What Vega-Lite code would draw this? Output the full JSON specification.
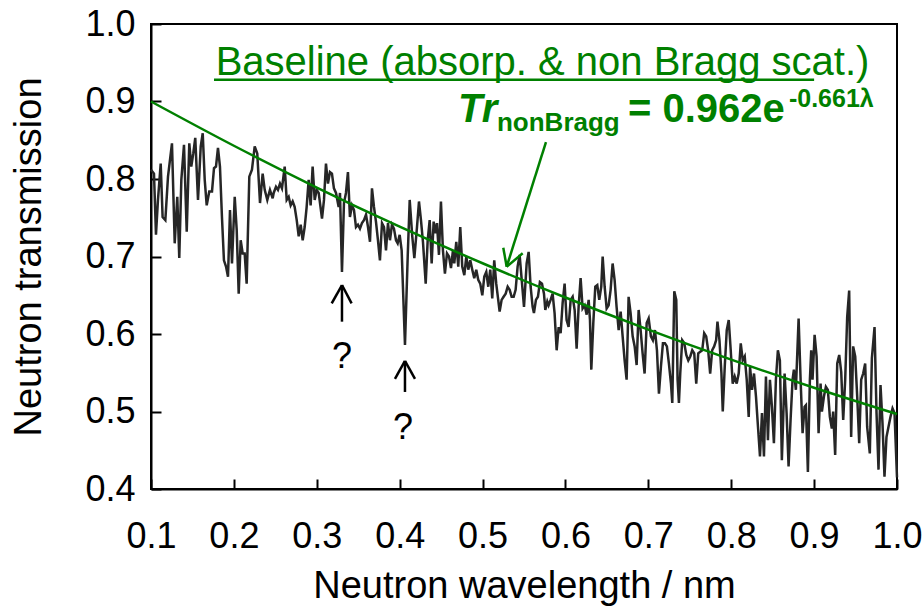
{
"$schema": "https://vega.github.io/schema/vega-lite/v6.json",
"width": 746, "height": 465,
"autosize": {"type": "none"},
"padding": {"left": 151, "top": 24, "right": 26, "bottom": 117},
"background": "white",
"config": {"view": {"stroke": "black", "strokeWidth": 2}, "font": "Liberation Sans"},
"datasets": {
"trans": [
{"wl":0.1,"tr":0.812},{"wl":0.1036,"tr":0.807},{"wl":0.106,"tr":0.728},{"wl":0.1084,"tr":0.773},{"wl":0.1117,"tr":0.82},{"wl":0.114,"tr":0.751},{"wl":0.1173,"tr":0.747},{"wl":0.1205,"tr":0.803},{"wl":0.1253,"tr":0.846},{"wl":0.1286,"tr":0.717},{"wl":0.1317,"tr":0.777},{"wl":0.1341,"tr":0.698},{"wl":0.1366,"tr":0.799},{"wl":0.1398,"tr":0.844},{"wl":0.1431,"tr":0.732},{"wl":0.1462,"tr":0.846},{"wl":0.1486,"tr":0.816},{"wl":0.151,"tr":0.833},{"wl":0.1534,"tr":0.853},{"wl":0.1567,"tr":0.773},{"wl":0.16,"tr":0.842},{"wl":0.1624,"tr":0.859},{"wl":0.1648,"tr":0.799},{"wl":0.1672,"tr":0.766},{"wl":0.1703,"tr":0.784},{"wl":0.1736,"tr":0.784},{"wl":0.176,"tr":0.814},{"wl":0.1784,"tr":0.816},{"wl":0.1808,"tr":0.84},{"wl":0.1832,"tr":0.816},{"wl":0.1856,"tr":0.751},{"wl":0.188,"tr":0.695},{"wl":0.1905,"tr":0.687},{"wl":0.1929,"tr":0.674},{"wl":0.1953,"tr":0.76},{"wl":0.1977,"tr":0.691},{"wl":0.201,"tr":0.777},{"wl":0.2034,"tr":0.734},{"wl":0.2058,"tr":0.652},{"wl":0.2082,"tr":0.721},{"wl":0.2106,"tr":0.704},{"wl":0.213,"tr":0.704},{"wl":0.2154,"tr":0.665},{"wl":0.2186,"tr":0.803},{"wl":0.2218,"tr":0.812},{"wl":0.2251,"tr":0.842},{"wl":0.2282,"tr":0.833},{"wl":0.2315,"tr":0.769},{"wl":0.2347,"tr":0.807},{"wl":0.2372,"tr":0.786},{"wl":0.2403,"tr":0.773},{"wl":0.2435,"tr":0.786},{"wl":0.2468,"tr":0.775},
{"wl":0.248,"tr":0.782},{"wl":0.2508,"tr":0.79},{"wl":0.2532,"tr":0.786},{"wl":0.2556,"tr":0.794},{"wl":0.258,"tr":0.788},{"wl":0.2613,"tr":0.816},{"wl":0.2637,"tr":0.773},{"wl":0.2661,"tr":0.777},{"wl":0.2685,"tr":0.766},{"wl":0.2709,"tr":0.771},{"wl":0.2733,"tr":0.764},{"wl":0.2758,"tr":0.747},{"wl":0.2782,"tr":0.726},{"wl":0.2806,"tr":0.741},{"wl":0.283,"tr":0.721},{"wl":0.2854,"tr":0.738},{"wl":0.2878,"tr":0.764},{"wl":0.2902,"tr":0.799},{"wl":0.2926,"tr":0.766},{"wl":0.295,"tr":0.816},{"wl":0.2975,"tr":0.773},{"wl":0.2999,"tr":0.786},{"wl":0.3023,"tr":0.782},{"wl":0.3063,"tr":0.749},{"wl":0.3087,"tr":0.773},{"wl":0.3111,"tr":0.82},{"wl":0.3135,"tr":0.794},{"wl":0.3159,"tr":0.809},{"wl":0.3183,"tr":0.807},{"wl":0.3207,"tr":0.788},{"wl":0.3232,"tr":0.782},{"wl":0.3264,"tr":0.764},{"wl":0.328,"tr":0.782},{"wl":0.3304,"tr":0.68},{"wl":0.3328,"tr":0.769},{"wl":0.3352,"tr":0.782},{"wl":0.3376,"tr":0.809},{"wl":0.34,"tr":0.751},{"wl":0.3425,"tr":0.766},{"wl":0.3449,"tr":0.76},{"wl":0.3473,"tr":0.738},{"wl":0.3497,"tr":0.741},{"wl":0.3521,"tr":0.736},{"wl":0.3545,"tr":0.743},{"wl":0.3569,"tr":0.747},{"wl":0.3594,"tr":0.754},{"wl":0.3618,"tr":0.738},{"wl":0.3642,"tr":0.719},{"wl":0.3666,"tr":0.788},{"wl":0.369,"tr":0.764},{"wl":0.3714,"tr":0.745},{"wl":0.3738,"tr":0.721},{"wl":0.3762,"tr":0.695},{"wl":0.3787,"tr":0.743},{"wl":0.3811,"tr":0.738},{"wl":0.3835,"tr":0.708},{"wl":0.3859,"tr":0.743},{"wl":0.3883,"tr":0.721},{"wl":0.3907,"tr":0.741},{"wl":0.3931,"tr":0.736},{"wl":0.3956,"tr":0.721},
{"wl":0.3976,"tr":0.717},{"wl":0.4,"tr":0.728},{"wl":0.4024,"tr":0.708},{"wl":0.4064,"tr":0.586},{"wl":0.4097,"tr":0.7},{"wl":0.4121,"tr":0.773},{"wl":0.4152,"tr":0.726},{"wl":0.4177,"tr":0.698},{"wl":0.4209,"tr":0.738},{"wl":0.4233,"tr":0.771},{"wl":0.4257,"tr":0.747},{"wl":0.4281,"tr":0.719},{"wl":0.4314,"tr":0.665},{"wl":0.4338,"tr":0.721},{"wl":0.4362,"tr":0.747},{"wl":0.4386,"tr":0.691},{"wl":0.441,"tr":0.745},{"wl":0.4434,"tr":0.73},{"wl":0.445,"tr":0.743},{"wl":0.4474,"tr":0.702},{"wl":0.4498,"tr":0.771},{"wl":0.4522,"tr":0.708},{"wl":0.4546,"tr":0.678},{"wl":0.4571,"tr":0.704},{"wl":0.4595,"tr":0.7},{"wl":0.4619,"tr":0.685},{"wl":0.4643,"tr":0.708},{"wl":0.4659,"tr":0.691},{"wl":0.4683,"tr":0.719},{"wl":0.4707,"tr":0.687},{"wl":0.4731,"tr":0.738},{"wl":0.4755,"tr":0.687},{"wl":0.478,"tr":0.676},{"wl":0.4804,"tr":0.7},{"wl":0.4828,"tr":0.683},{"wl":0.4852,"tr":0.695},{"wl":0.4876,"tr":0.683},{"wl":0.49,"tr":0.672},{"wl":0.4924,"tr":0.683},{"wl":0.4948,"tr":0.67},{"wl":0.4972,"tr":0.665},{"wl":0.4997,"tr":0.65},{"wl":0.5021,"tr":0.674},{"wl":0.5045,"tr":0.68},{"wl":0.5069,"tr":0.661},{"wl":0.5093,"tr":0.683},{"wl":0.5117,"tr":0.646},{"wl":0.5141,"tr":0.695},{"wl":0.5165,"tr":0.665},{"wl":0.5189,"tr":0.644},{"wl":0.5206,"tr":0.629},{"wl":0.523,"tr":0.644},{"wl":0.5254,"tr":0.648},{"wl":0.5279,"tr":0.652},{"wl":0.5303,"tr":0.661},{"wl":0.5327,"tr":0.657},{"wl":0.5351,"tr":0.648},{"wl":0.5375,"tr":0.648},{"wl":0.5399,"tr":0.657},{"wl":0.5423,"tr":0.687},{"wl":0.5447,"tr":0.702},
{"wl":0.55,"tr":0.635},{"wl":0.5532,"tr":0.691},{"wl":0.5556,"tr":0.706},{"wl":0.558,"tr":0.661},{"wl":0.5604,"tr":0.635},{"wl":0.562,"tr":0.627},{"wl":0.5644,"tr":0.644},{"wl":0.5668,"tr":0.648},{"wl":0.5692,"tr":0.667},{"wl":0.5717,"tr":0.665},{"wl":0.5741,"tr":0.652},{"wl":0.5757,"tr":0.631},{"wl":0.5781,"tr":0.642},{"wl":0.5797,"tr":0.637},{"wl":0.5821,"tr":0.644},{"wl":0.5845,"tr":0.652},{"wl":0.5869,"tr":0.627},{"wl":0.5894,"tr":0.579},{"wl":0.5918,"tr":0.609},{"wl":0.5942,"tr":0.601},{"wl":0.5966,"tr":0.64},{"wl":0.599,"tr":0.665},{"wl":0.6014,"tr":0.618},{"wl":0.6038,"tr":0.609},{"wl":0.6063,"tr":0.644},{"wl":0.6087,"tr":0.648},{"wl":0.6111,"tr":0.631},{"wl":0.6135,"tr":0.581},{"wl":0.6159,"tr":0.635},{"wl":0.6183,"tr":0.672},{"wl":0.6207,"tr":0.633},{"wl":0.6232,"tr":0.637},{"wl":0.6256,"tr":0.625},{"wl":0.628,"tr":0.644},{"wl":0.6296,"tr":0.618},{"wl":0.6312,"tr":0.554},{"wl":0.6336,"tr":0.614},{"wl":0.636,"tr":0.661},{"wl":0.6384,"tr":0.663},{"wl":0.6408,"tr":0.644},{"wl":0.6432,"tr":0.661},{"wl":0.6449,"tr":0.7},{"wl":0.6473,"tr":0.661},{"wl":0.6497,"tr":0.633},{"wl":0.6521,"tr":0.637},{"wl":0.6545,"tr":0.657},{"wl":0.6569,"tr":0.691},{"wl":0.6593,"tr":0.67},{"wl":0.6617,"tr":0.635},{"wl":0.6642,"tr":0.605},{"wl":0.6666,"tr":0.629},{"wl":0.669,"tr":0.597},{"wl":0.6714,"tr":0.566},{"wl":0.6738,"tr":0.541},{"wl":0.6762,"tr":0.648},{"wl":0.6786,"tr":0.627},{"wl":0.6811,"tr":0.597},{"wl":0.6835,"tr":0.584},{"wl":0.6859,"tr":0.56},{"wl":0.6883,"tr":0.631},{"wl":0.6907,"tr":0.605},{"wl":0.6931,"tr":0.575},{"wl":0.6955,"tr":0.549},{"wl":0.698,"tr":0.614},{"wl":0.7004,"tr":0.62},
{"wl":0.7031,"tr":0.597},{"wl":0.7055,"tr":0.592},{"wl":0.708,"tr":0.605},{"wl":0.7104,"tr":0.579},{"wl":0.7128,"tr":0.523},{"wl":0.7152,"tr":0.558},{"wl":0.7176,"tr":0.588},{"wl":0.72,"tr":0.588},{"wl":0.7224,"tr":0.584},{"wl":0.7248,"tr":0.562},{"wl":0.7273,"tr":0.536},{"wl":0.7289,"tr":0.511},{"wl":0.7313,"tr":0.655},{"wl":0.7337,"tr":0.644},{"wl":0.7353,"tr":0.541},{"wl":0.7369,"tr":0.511},{"wl":0.7385,"tr":0.549},{"wl":0.7409,"tr":0.592},{"wl":0.7434,"tr":0.588},{"wl":0.7458,"tr":0.573},{"wl":0.7482,"tr":0.566},{"wl":0.7506,"tr":0.571},{"wl":0.753,"tr":0.579},{"wl":0.7554,"tr":0.575},{"wl":0.7578,"tr":0.536},{"wl":0.7602,"tr":0.575},{"wl":0.7626,"tr":0.577},{"wl":0.765,"tr":0.579},{"wl":0.7674,"tr":0.601},{"wl":0.7698,"tr":0.597},{"wl":0.7722,"tr":0.579},{"wl":0.7746,"tr":0.549},{"wl":0.777,"tr":0.579},{"wl":0.7794,"tr":0.584},{"wl":0.7818,"tr":0.592},{"wl":0.7834,"tr":0.616},{"wl":0.7858,"tr":0.592},{"wl":0.7882,"tr":0.549},{"wl":0.7898,"tr":0.5},{"wl":0.7922,"tr":0.558},{"wl":0.7946,"tr":0.605},{"wl":0.797,"tr":0.618},{"wl":0.7994,"tr":0.579},{"wl":0.8018,"tr":0.536},{"wl":0.8042,"tr":0.545},{"wl":0.8066,"tr":0.536},{"wl":0.809,"tr":0.549},{"wl":0.8115,"tr":0.588},{"wl":0.8139,"tr":0.566},{"wl":0.8163,"tr":0.571},{"wl":0.8187,"tr":0.541},{"wl":0.8211,"tr":0.493},{"wl":0.8227,"tr":0.558},{"wl":0.8251,"tr":0.528},{"wl":0.8275,"tr":0.549},{"wl":0.8299,"tr":0.519},{"wl":0.8323,"tr":0.48},{"wl":0.8347,"tr":0.442},{"wl":0.8371,"tr":0.498},{"wl":0.8395,"tr":0.442},{"wl":0.8419,"tr":0.545},{"wl":0.8443,"tr":0.463},{"wl":0.8467,"tr":0.541},
{"wl":0.8491,"tr":0.506},{"wl":0.8515,"tr":0.459},{"wl":0.8539,"tr":0.541},{"wl":0.8563,"tr":0.579},{"wl":0.8587,"tr":0.566},{"wl":0.8611,"tr":0.437},{"wl":0.8644,"tr":0.549},{"wl":0.8668,"tr":0.498},{"wl":0.8692,"tr":0.429},{"wl":0.8716,"tr":0.489},{"wl":0.874,"tr":0.541},{"wl":0.8756,"tr":0.554},{"wl":0.878,"tr":0.528},{"wl":0.8813,"tr":0.62},{"wl":0.8837,"tr":0.541},{"wl":0.8861,"tr":0.472},{"wl":0.8885,"tr":0.506},{"wl":0.8901,"tr":0.508},{"wl":0.8925,"tr":0.422},{"wl":0.8949,"tr":0.541},{"wl":0.8965,"tr":0.579},{"wl":0.8981,"tr":0.541},{"wl":0.9006,"tr":0.599},{"wl":0.903,"tr":0.571},{"wl":0.9054,"tr":0.472},{"wl":0.9078,"tr":0.536},{"wl":0.9094,"tr":0.5},{"wl":0.9118,"tr":0.519},{"wl":0.9142,"tr":0.532},{"wl":0.9166,"tr":0.528},{"wl":0.919,"tr":0.493},{"wl":0.9214,"tr":0.478},{"wl":0.923,"tr":0.5},{"wl":0.9254,"tr":0.444},{"wl":0.9279,"tr":0.562},{"wl":0.9303,"tr":0.573},{"wl":0.9327,"tr":0.551},{"wl":0.9351,"tr":0.489},{"wl":0.9375,"tr":0.541},{"wl":0.9399,"tr":0.622},{"wl":0.9423,"tr":0.656},{"wl":0.9447,"tr":0.467},{"wl":0.9471,"tr":0.584},{"wl":0.9496,"tr":0.571},{"wl":0.952,"tr":0.519},{"wl":0.9544,"tr":0.459},{"wl":0.9568,"tr":0.541},{"wl":0.9592,"tr":0.549},{"wl":0.9616,"tr":0.562},{"wl":0.964,"tr":0.48},{"wl":0.9672,"tr":0.446},{"wl":0.9697,"tr":0.569},{"wl":0.9729,"tr":0.609},{"wl":0.9753,"tr":0.498},{"wl":0.9777,"tr":0.425},{"wl":0.9801,"tr":0.534},{"wl":0.9825,"tr":0.485},{"wl":0.9849,"tr":0.416},{"wl":0.9873,"tr":0.467},{"wl":0.9897,"tr":0.48},{"wl":0.9921,"tr":0.493},{"wl":0.9946,"tr":0.504},{"wl":0.997,"tr":0.498},{"wl":1.0,"tr":0.415}
],
"base": [
{"wl":0.1,"tr":0.9},{"wl":0.2,"tr":0.8429},{"wl":0.3,"tr":0.789},{"wl":0.4,"tr":0.7385},{"wl":0.5,"tr":0.6913},{"wl":0.6,"tr":0.6471},{"wl":0.7,"tr":0.6057},{"wl":0.8,"tr":0.5669},{"wl":0.9,"tr":0.5307},{"wl":1.0,"tr":0.4967}
],
"greenRules": [
{"wl":0.176,"tr":0.928,"wl2":0.9,"tr2":0.928},
{"wl":0.5765,"tr":0.8477,"wl2":0.5291,"tr2":0.6868},
{"wl":0.5291,"tr":0.6868,"wl2":0.525,"tr2":0.7114},
{"wl":0.5291,"tr":0.6868,"wl2":0.5484,"tr2":0.7041}
],
"blackRules": [
{"wl":0.3304,"tr":0.6632,"wl2":0.3304,"tr2":0.6159},
{"wl":0.3304,"tr":0.6632,"wl2":0.318,"tr2":0.6396},
{"wl":0.3304,"tr":0.6632,"wl2":0.342,"tr2":0.6396},
{"wl":0.4064,"tr":0.5652,"wl2":0.4064,"tr2":0.5252},
{"wl":0.4064,"tr":0.5652,"wl2":0.3943,"tr2":0.542},
{"wl":0.4064,"tr":0.5652,"wl2":0.4185,"tr2":0.542}
],
"qmarks": [
{"wl":0.3304,"tr":0.5703,"label":"?"},
{"wl":0.404,"tr":0.4787,"label":"?"}
],
"heading": [{"wl":0.5723,"tr":0.934,"label":"Baseline (absorp. & non Bragg scat.)"}],
"trText": [{"wl":0.4703,"tr":0.874,"label":"Tr"}],
"subText": [{"wl":0.5174,"tr":0.862,"label":"nonBragg"}],
"eqText": [{"wl":0.6754,"tr":0.874,"label":"= 0.962e"}],
"supText": [{"wl":0.8696,"tr":0.893,"label":"-0.661λ"}]
},
"encoding": {
"x": {"field": "wl", "type": "quantitative",
 "scale": {"domain": [0.1, 1.0], "nice": false, "zero": false},
 "axis": {"values": [0.1,0.2,0.3,0.4,0.5,0.6,0.7,0.8,0.9,1.0], "format": ".1f", "title": "Neutron wavelength / nm",
  "grid": false, "domainColor": "black", "domainWidth": 2, "tickColor": "black", "tickWidth": 2, "tickSize": -10,
  "labelFont": "Liberation Sans", "labelFontSize": 36, "labelColor": "black", "labelPadding": 40, "labelFlush": false, "labelOverlap": false,
  "titleFont": "Liberation Sans", "titleFontSize": 38, "titleFontWeight": "normal", "titleColor": "black", "titleY": 108, "titleBaseline": "alphabetic"}},
"y": {"field": "tr", "type": "quantitative",
 "scale": {"domain": [0.4, 1.0], "nice": false, "zero": false},
 "axis": {"values": [0.4,0.5,0.6,0.7,0.8,0.9,1.0], "format": ".1f", "title": "Neutron transmission",
  "grid": false, "domainColor": "black", "domainWidth": 2, "tickColor": "black", "tickWidth": 2, "tickSize": -10,
  "labelFont": "Liberation Sans", "labelFontSize": 36, "labelColor": "black", "labelPadding": 26, "labelOverlap": false,
  "titleFont": "Liberation Sans", "titleFontSize": 38, "titleFontWeight": "normal", "titleColor": "black", "titleX": -111, "titleBaseline": "alphabetic"}}
},
"layer": [
{"data": {"name": "trans"}, "mark": {"type": "line", "color": "#262626", "strokeWidth": 2.5}},
{"data": {"name": "base"}, "mark": {"type": "line", "color": "#008000", "strokeWidth": 2.5, "interpolate": "monotone"}},
{"data": {"name": "greenRules"}, "mark": {"type": "rule", "color": "#008000", "strokeWidth": 2.5}, "encoding": {"x2": {"field": "wl2"}, "y2": {"field": "tr2"}}},
{"data": {"name": "blackRules"}, "mark": {"type": "rule", "color": "black", "strokeWidth": 2.5}, "encoding": {"x2": {"field": "wl2"}, "y2": {"field": "tr2"}}},
{"data": {"name": "qmarks"}, "mark": {"type": "text", "font": "Liberation Sans", "fontSize": 36, "color": "black", "align": "center", "baseline": "middle"}, "encoding": {"text": {"field": "label"}}},
{"data": {"name": "heading"}, "mark": {"type": "text", "font": "Liberation Sans", "fontSize": 40, "color": "#008000", "align": "center", "baseline": "alphabetic"}, "encoding": {"text": {"field": "label"}}},
{"data": {"name": "trText"}, "mark": {"type": "text", "font": "Liberation Sans", "fontSize": 40, "fontWeight": "bold", "fontStyle": "italic", "color": "#008000", "align": "left", "baseline": "alphabetic"}, "encoding": {"text": {"field": "label"}}},
{"data": {"name": "subText"}, "mark": {"type": "text", "font": "Liberation Sans", "fontSize": 26, "fontWeight": "bold", "color": "#008000", "align": "left", "baseline": "alphabetic"}, "encoding": {"text": {"field": "label"}}},
{"data": {"name": "eqText"}, "mark": {"type": "text", "font": "Liberation Sans", "fontSize": 40, "fontWeight": "bold", "color": "#008000", "align": "left", "baseline": "alphabetic"}, "encoding": {"text": {"field": "label"}}},
{"data": {"name": "supText"}, "mark": {"type": "text", "font": "Liberation Sans", "fontSize": 25, "fontWeight": "bold", "color": "#008000", "align": "left", "baseline": "alphabetic"}, "encoding": {"text": {"field": "label"}}}
]
}
